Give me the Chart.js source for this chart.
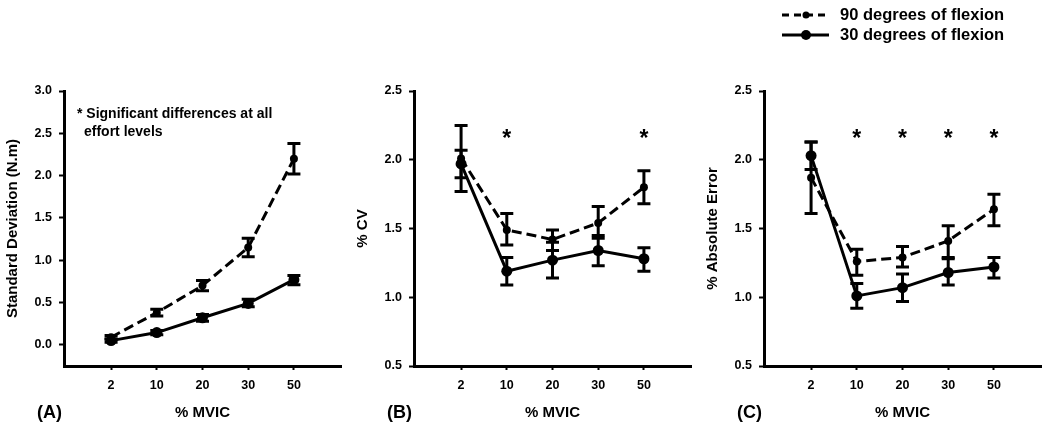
<!DOCTYPE html>
<html>
<head>
<meta charset="utf-8">
<script src="https://cdn.jsdelivr.net/npm/chart.js@4.4.1/dist/chart.umd.min.js"></script>
<style>
  body { margin: 0; background: #fff; }
  #wrap { position: relative; width: 1050px; height: 436px; }
  .panel { position: absolute; top: 0; width: 350px; height: 436px; }
</style>
</head>
<body>
<div id="wrap">
  <div class="panel" style="left:0"><canvas id="chartA" width="350" height="436"></canvas></div>
  <div class="panel" style="left:350px"><canvas id="chartB" width="350" height="436"></canvas></div>
  <div class="panel" style="left:700px"><canvas id="chartC" width="350" height="436"></canvas></div>
</div>
<script>
// categories (% MVIC)
const mvicLabels = ["2", "10", "20", "30", "50"];

// (A) standard deviation, N.m
const sd90 = [0.09, 0.38, 0.70, 1.15, 2.20];
const sd90Lo = [0.07, 0.34, 0.64, 1.04, 2.02];
const sd90Hi = [0.11, 0.42, 0.76, 1.26, 2.38];
const sd30 = [0.05, 0.145, 0.32, 0.49, 0.77];
const sd30Lo = [0.03, 0.12, 0.28, 0.45, 0.71];
const sd30Hi = [0.07, 0.17, 0.36, 0.54, 0.82];

// (B) % CV
const cv90 = [2.01, 1.49, 1.42, 1.54, 1.80];
const cv90Lo = [1.77, 1.38, 1.34, 1.43, 1.68];
const cv90Hi = [2.25, 1.61, 1.49, 1.66, 1.92];
const cv30 = [1.97, 1.19, 1.27, 1.34, 1.28];
const cv30Lo = [1.87, 1.09, 1.14, 1.23, 1.19];
const cv30Hi = [2.07, 1.29, 1.40, 1.45, 1.36];
const cvSig = ["", "*", "", "", "*"];

// (C) % absolute error
const ae90 = [1.87, 1.26, 1.29, 1.41, 1.64];
const ae90Lo = [1.61, 1.16, 1.22, 1.29, 1.52];
const ae90Hi = [2.13, 1.35, 1.37, 1.52, 1.75];
const ae30 = [2.03, 1.01, 1.07, 1.18, 1.22];
const ae30Lo = [1.93, 0.92, 0.97, 1.09, 1.14];
const ae30Hi = [2.13, 1.10, 1.17, 1.28, 1.29];
const aeSig = ["", "*", "*", "*", "*"];

// y tick labels
const sdTicks = [0, 0.5, 1.0, 1.5, 2.0, 2.5, 3.0];
const pctTicks = [0.5, 1.0, 1.5, 2.0, 2.5];

const seriesNames = ["90 degrees of flexion", "30 degrees of flexion"];

const FONT = "'Liberation Sans', Arial, sans-serif";

const toPoints = (vals) => vals.map((v, i) => ({ x: i, y: v }));

// error bars, drawn under the points
const errorBars = {
  id: "errorBars",
  beforeDatasetsDraw(chart) {
    const ctx = chart.ctx;
    const { x, y } = chart.scales;
    ctx.save();
    ctx.strokeStyle = "#000";
    ctx.lineWidth = 3;
    chart.data.datasets.forEach((ds) => {
      if (!ds.errLo) return;
      ds.data.forEach((p, i) => {
        const px = x.getPixelForValue(p.x);
        const lo = y.getPixelForValue(ds.errLo[i]);
        const hi = y.getPixelForValue(ds.errHi[i]);
        ctx.beginPath();
        ctx.moveTo(px, lo); ctx.lineTo(px, hi);
        ctx.moveTo(px - 6.5, lo); ctx.lineTo(px + 6.5, lo);
        ctx.moveTo(px - 6.5, hi); ctx.lineTo(px + 6.5, hi);
        ctx.stroke();
      });
    });
    ctx.restore();
  },
};

// asterisks, panel tag, notes, legend
const extras = {
  id: "extras",
  afterDraw(chart, args, opts) {
    const ctx = chart.ctx;
    const { x, y } = chart.scales;
    ctx.save();
    ctx.fillStyle = "#000";
    if (opts.sig) {
      ctx.font = "bold 23px " + FONT;
      ctx.textAlign = "center";
      ctx.textBaseline = "middle";
      opts.sig.forEach((s, i) => {
        if (s) ctx.fillText(s, x.getPixelForValue(i), y.getPixelForValue(opts.sigAt) + 5);
      });
    }
    if (opts.tag) {
      ctx.font = "bold 18px " + FONT;
      ctx.textAlign = "left";
      ctx.textBaseline = "middle";
      ctx.fillText(opts.tag, 37, 413);
    }
    if (opts.note) {
      ctx.font = "bold 14px " + FONT;
      ctx.textAlign = "left";
      ctx.textBaseline = "middle";
      ctx.fillText(opts.note[0], 77, 114);
      ctx.fillText(opts.note[1], 84, 132);
    }
    if (opts.legend) {
      ctx.strokeStyle = "#000";
      ctx.lineWidth = 3;
      ctx.font = "bold 16.5px " + FONT;
      ctx.textAlign = "left";
      ctx.textBaseline = "middle";
      // dashed
      ctx.setLineDash([7, 5]);
      ctx.beginPath(); ctx.moveTo(82, 15); ctx.lineTo(125, 15); ctx.stroke();
      ctx.setLineDash([]);
      ctx.beginPath(); ctx.arc(106, 15, 3.5, 0, Math.PI * 2); ctx.fill();
      ctx.fillText(opts.legend[0], 140, 15);
      // solid
      ctx.beginPath(); ctx.moveTo(82, 35); ctx.lineTo(129, 35); ctx.stroke();
      ctx.beginPath(); ctx.arc(106, 35, 5, 0, Math.PI * 2); ctx.fill();
      ctx.fillText(opts.legend[1], 140, 35);
    }
    ctx.restore();
  },
};

function makePanel(id, cfg) {
  return new Chart(document.getElementById(id), {
    type: "line",
    data: {
      datasets: [
        {
          label: seriesNames[0],
          data: toPoints(cfg.d90),
          errLo: cfg.d90Lo,
          errHi: cfg.d90Hi,
          borderColor: "#000",
          backgroundColor: "#000",
          borderWidth: 3,
          borderDash: [10, 5],
          pointRadius: 4,
          pointBorderWidth: 0,
        },
        {
          label: seriesNames[1],
          data: toPoints(cfg.d30),
          errLo: cfg.d30Lo,
          errHi: cfg.d30Hi,
          borderColor: "#000",
          backgroundColor: "#000",
          borderWidth: 3,
          pointRadius: 5.5,
          pointBorderWidth: 0,
        },
      ],
    },
    options: {
      responsive: false,
      animation: false,
      layout: { padding: { top: 91, right: 9, left: 0, bottom: 0 } },
      scales: {
        x: {
          type: "linear",
          min: -1.03,
          max: 5.03,
          afterBuildTicks: (s) => { s.ticks = mvicLabels.map((_, i) => ({ value: i })); },
          afterFit: (s) => { s.height = 70; },
          grid: { display: true, drawOnChartArea: false, tickLength: 4, tickWidth: 2, color: "#000" },
          border: { display: true, width: 3, color: "#000" },
          ticks: {
            color: "#000",
            padding: 8,
            autoSkip: false,
            maxRotation: 0,
            font: { family: FONT, size: 12.5, weight: "bold" },
            callback: (v, i) => mvicLabels[i],
          },
          title: {
            display: true,
            text: "% MVIC",
            color: "#000",
            font: { family: FONT, size: 15, weight: "bold" },
            padding: { top: 0, bottom: 14 },
          },
        },
        y: {
          min: cfg.yMin,
          max: cfg.yMax,
          afterBuildTicks: (s) => { s.ticks = cfg.yTicks.map((v) => ({ value: v })); },
          afterFit: (s) => { s.width = 64; },
          grid: { display: true, drawOnChartArea: false, tickLength: 5, tickWidth: 2, color: "#000" },
          border: { display: true, width: 3, color: "#000" },
          ticks: {
            color: "#000",
            padding: 7,
            font: { family: FONT, size: 12.5, weight: "bold" },
            callback: (v) => v.toFixed(1),
          },
          title: {
            display: true,
            text: cfg.yTitle,
            color: "#000",
            font: { family: FONT, size: 15, weight: "bold" },
            padding: { top: 4, bottom: 0 },
          },
        },
      },
      plugins: {
        legend: { display: false },
        tooltip: { enabled: false },
        extras: cfg.extras,
      },
    },
    plugins: [errorBars, extras],
  });
}

makePanel("chartA", {
  d90: sd90, d90Lo: sd90Lo, d90Hi: sd90Hi,
  d30: sd30, d30Lo: sd30Lo, d30Hi: sd30Hi,
  yMin: -0.25, yMax: 3.0, yTicks: sdTicks,
  yTitle: "Standard Deviation (N.m)",
  extras: { tag: "(A)", note: ["* Significant differences at all", "effort levels"] },
});

makePanel("chartB", {
  d90: cv90, d90Lo: cv90Lo, d90Hi: cv90Hi,
  d30: cv30, d30Lo: cv30Lo, d30Hi: cv30Hi,
  yMin: 0.5, yMax: 2.5, yTicks: pctTicks,
  yTitle: "% CV",
  extras: { tag: "(B)", sig: cvSig, sigAt: 2.18 },
});

makePanel("chartC", {
  d90: ae90, d90Lo: ae90Lo, d90Hi: ae90Hi,
  d30: ae30, d30Lo: ae30Lo, d30Hi: ae30Hi,
  yMin: 0.5, yMax: 2.5, yTicks: pctTicks,
  yTitle: "% Absolute Error",
  extras: { tag: "(C)", sig: aeSig, sigAt: 2.18, legend: seriesNames },
});
</script>
</body>
</html>
